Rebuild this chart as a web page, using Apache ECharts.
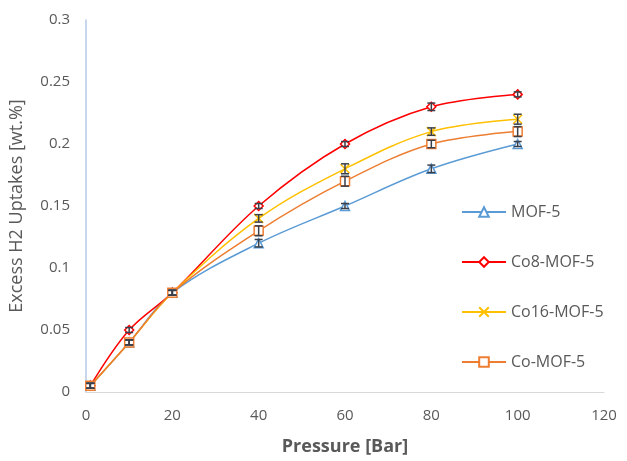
<!DOCTYPE html>
<html>
<head>
<meta charset="utf-8">
<script src="https://cdn.jsdelivr.net/npm/echarts@6/dist/echarts.min.js"></script>
<style>
  html, body { margin: 0; padding: 0; background: #fff; }
  #chart { width: 627px; height: 461px; }
</style>
</head>
<body>
<div id="chart"></div>
<script>
// 压力 (Bar)
var pressure = [1, 10, 20, 40, 60, 80, 100];
// 各材料的吸附量 (wt.%)
var mof5 = [0.005, 0.04, 0.08, 0.12, 0.15, 0.18, 0.20];
var co8 = [0.005, 0.05, 0.08, 0.15, 0.20, 0.23, 0.24];
var co16 = [0.005, 0.04, 0.08, 0.14, 0.18, 0.21, 0.22];
var coMof = [0.005, 0.04, 0.08, 0.13, 0.17, 0.20, 0.21];
// 误差棒
var mof5_err = [0.002, 0.002, 0.002, 0.003, 0.002, 0.003, 0.002];
var co8_err = [0.002, 0.002, 0.002, 0.002, 0.002, 0.003, 0.002];
var co16_err = [0.002, 0.002, 0.002, 0.003, 0.004, 0.003, 0.004];
var coMof_err = [0.002, 0.002, 0.002, 0.004, 0.004, 0.003, 0.004];

var names = ['MOF-5', 'Co8-MOF-5', 'Co16-MOF-5', 'Co-MOF-5'];
var colors = ['#5b9bd5', '#ff0000', '#ffc000', '#ed7d31'];
var symbols = ['triangle', 'diamond', 'path://M0,0 L10,10 M10,0 L0,10 M0,0 Z', 'rect'];
var values = [mof5, co8, co16, coMof];
var errs = [mof5_err, co8_err, co16_err, coMof_err];

var textColor = '#595959';
var font = 'Open Sans';

function pairs(ys){
  var out = [];
  for (var i = 0; i < pressure.length; i++) out.push([pressure[i], ys[i]]);
  return out;
}

function errData(ys, es){
  var out = [];
  for (var i = 0; i < pressure.length; i++) out.push([pressure[i], ys[i], es[i]]);
  return out;
}

function renderErr(params, api){
  var x = api.value(0), y = api.value(1), e = api.value(2);
  var hi = api.coord([x, y + e]);
  var lo = api.coord([x, y - e]);
  var w = 4;
  var st = { stroke: '#3a3f4a', lineWidth: 1.5 };
  return {
    type: 'group',
    children: [
      { type: 'line', shape: { x1: hi[0], y1: hi[1], x2: lo[0], y2: lo[1] }, style: st },
      { type: 'line', shape: { x1: hi[0] - w, y1: hi[1], x2: hi[0] + w, y2: hi[1] }, style: st },
      { type: 'line', shape: { x1: lo[0] - w, y1: lo[1], x2: lo[0] + w, y2: lo[1] }, style: st }
    ]
  };
}

var series = [];
for (var k = 0; k < names.length; k++){
  series.push({
    name: names[k],
    type: 'line',
    smooth: 0.35,
    data: pairs(values[k]),
    symbol: symbols[k],
    symbolSize: 9,
    showSymbol: true,
    itemStyle: { color: '#fff', borderColor: colors[k], borderWidth: 1.5 },
    lineStyle: { color: colors[k], width: 1.5 },
    z: 2 + k
  });
}
for (var k = 0; k < names.length; k++){
  series.push({
    type: 'custom',
    renderItem: renderErr,
    data: errData(values[k], errs[k]),
    z: 10,
    silent: true
  });
}

var chart = echarts.init(document.getElementById('chart'));
chart.setOption({
  animation: false,
  textStyle: { fontFamily: font },
  grid: { left: 85, right: 23, top: 20, bottom: 67 },
  legend: {
    orient: 'vertical',
    left: 456,
    top: 199,
    itemGap: 34,
    itemWidth: 44,
    itemHeight: 12,
    data: names,
    textStyle: { color: textColor, fontSize: 16, fontFamily: font }
  },
  xAxis: {
    type: 'value',
    min: 0,
    max: 120,
    interval: 20,
    name: 'Pressure [Bar]',
    nameLocation: 'middle',
    nameGap: 46,
    nameTextStyle: { color: textColor, fontSize: 18, fontWeight: 'bold', fontFamily: font },
    axisLine: { show: true, lineStyle: { color: '#d9d9d9', width: 1 } },
    axisTick: { show: false },
    splitLine: { show: false },
    axisLabel: { color: textColor, fontSize: 15, margin: 16 }
  },
  yAxis: {
    type: 'value',
    min: 0,
    max: 0.3,
    interval: 0.05,
    name: 'Excess H2 Uptakes [wt.%]',
    nameLocation: 'middle',
    nameGap: 60,
    nameTextStyle: { color: textColor, fontSize: 18, fontFamily: font },
    axisLine: { show: true, lineStyle: { color: '#b4c7e7', width: 1.5 } },
    axisTick: { show: false },
    splitLine: { show: false },
    axisLabel: { color: textColor, fontSize: 15, margin: 16 }
  },
  series: series
});
</script>
</body>
</html>
